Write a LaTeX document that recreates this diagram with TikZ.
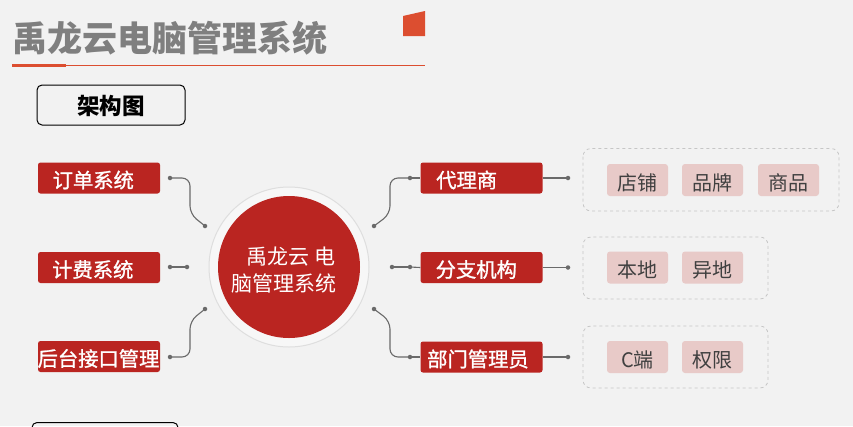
\documentclass[tikz,border=0pt]{standalone}
\usepackage{fontspec}
\setmainfont{Noto Sans CJK SC}
\newfontfamily\medfont[FakeBold=1.2]{Noto Sans CJK SC}
\definecolor{bgc}{HTML}{F2F2F2}
\definecolor{redbox}{HTML}{BA2521}
\definecolor{orng}{HTML}{DC4E30}
\definecolor{titlegray}{HTML}{7F7F7F}
\definecolor{pinkc}{HTML}{E8CAC8}
\definecolor{txtdark}{HTML}{404040}
\definecolor{dashc}{HTML}{C6C6C6}
\definecolor{connc}{HTML}{6A6A6A}
\tikzset{
  redb/.style={fill=redbox, rounded corners=2.5pt, minimum width=122pt, minimum height=31pt, inner sep=0pt},
  redt/.style={text=white, font=\fontsize{20.3}{23}\selectfont\medfont, inner sep=0pt},
  pinkb/.style={fill=pinkc, rounded corners=3pt, minimum width=61pt, minimum height=32pt, inner sep=0pt},
  pinkt/.style={text=txtdark, font=\fontsize{20}{23}\selectfont, inner sep=0pt},
  dashb/.style={draw=dashc, dashed, line width=0.8pt, rounded corners=8pt},
  dot/.style={circle, fill=connc, inner sep=0pt, minimum size=4.5pt},
  conn/.style={draw=connc, line width=1.1pt, rounded corners=8pt},
}
\begin{document}
\begin{tikzpicture}[x=1pt,y=-1pt]
\fill[bgc] (0,0) rectangle (853,426);
\useasboundingbox (0,0) rectangle (853,426);
% title
\node[anchor=west, text=titlegray, font=\fontsize{35}{38}\selectfont\bfseries, inner sep=0pt] (title) at (12,38) {禹龙云电脑管理系统};
\fill[orng] (12,63.5) rectangle (66,67);
\draw[orng, line width=1pt] (66,65.3) -- (425,65.3);
\fill[orng] (403,16) -- (425,11) -- (425,36) -- (403,36) -- cycle;
% arch box
\node[draw=black, line width=1pt, rounded corners=5pt, minimum width=148pt, minimum height=40pt] (arch) at (111,105) {};
\node[font=\fontsize{22.5}{24}\selectfont\bfseries, text=black, inner sep=0pt] (archt) at (111,106) {架构图};
% bottom box (cut off)
\draw[black, line width=1pt, rounded corners=5pt] (32,445) -- (32,422.5) -- (178,422.5) -- (178,445);
% circle
\node[circle, fill=white!40!bgc, draw=black!13, line width=1pt, minimum size=160pt] (ring) at (289,267) {};
\node[circle, fill=redbox, minimum size=142pt] (center) at (289,267) {};
\node[anchor=west, text=white, font=\fontsize{21}{24}\selectfont, inner sep=0pt] (c1) at (246.5,256.5) {禹龙云 电};
\node[anchor=west, text=white, font=\fontsize{21}{24}\selectfont, inner sep=0pt] (c2) at (231.5,283.5) {脑管理系统};
% left boxes
\node[redb] (b1) at (99,178) {};
\node[redt, anchor=west] (b1t) at (52.5,180) {订单系统};
\node[redb] (b2) at (99,267.5) {};
\node[redt, anchor=west] (b2t) at (52,269.5) {计费系统};
\node[redb] (b3) at (99,356.5) {};
\node[redt] (b3t) at (98.5,358.5) {后台接口管理};
% right boxes
\node[redb] (r1) at (481.5,178) {};
\node[redt, anchor=west] (r1t) at (436,180) {代理商};
\node[redb] (r2) at (481.5,267.5) {};
\node[redt, anchor=west] (r2t) at (435.5,269.5) {分支机构};
\node[redb] (r3) at (481.5,357) {};
\node[redt, anchor=west] (r3t) at (427,359) {部门管理员};
% left dots and connectors
\node[dot] (l1a) at (170,178) {};
\node[dot] (l1b) at (205,226) {};
\node[dot] (l2a) at (170,267) {};
\node[dot] (l2b) at (187,267) {};
\node[dot] (l3a) at (170,357) {};
\node[dot] (l3b) at (205,309) {};
\draw[conn] (l1a.center) -- (190,178) -- (190,214) -- (l1b.center);
\draw[conn] (l2a.center) -- (l2b.center);
\draw[conn] (l3a.center) -- (190,357) -- (190,321) -- (l3b.center);
% right dots and connectors
\node[dot] (m1a) at (374,226) {};
\node[dot] (m1b) at (410,178) {};
\node[dot] (m2a) at (392,267) {};
\node[dot] (m2b) at (410,267) {};
\node[dot] (m3a) at (374,309) {};
\node[dot] (m3b) at (410,357) {};
\draw[conn] (m1a.center) -- (390,214) -- (390,178) -- (m1b.center);
\draw[conn] (m2a.center) -- (m2b.center);
\draw[conn] (m3a.center) -- (390,321) -- (390,357) -- (m3b.center);
\draw[conn] (m1b.center) -- (r1.west);
\draw[conn] (m2b.center) -- (r2.west);
\draw[conn] (m3b.center) -- (r3.west);
% outer dots
\node[dot] (o1) at (568,178) {};
\node[dot] (o2) at (568,267.5) {};
\node[dot] (o3) at (568,357) {};
\draw[conn] (r1.east) -- (o1.center);
\draw[conn] (r2.east) -- (o2.center);
\draw[conn] (r3.east) -- (o3.center);
% dashed groups
\draw[dashb] (583,148.5) rectangle (839,211);
\draw[dashb] (583,237) rectangle (768,299);
\draw[dashb] (583,326) rectangle (768,388);
% pink boxes
\node[pinkb] (p11) at (637.5,180) {};
\node[pinkt] (p11t) at (637.5,182.5) {店铺};
\node[pinkb] (p12) at (712.5,180) {};
\node[pinkt] (p12t) at (712.5,182.5) {品牌};
\node[pinkb] (p13) at (788.5,180) {};
\node[pinkt] (p13t) at (788.5,182.5) {商品};
\node[pinkb] (p21) at (637.5,267.5) {};
\node[pinkt] (p21t) at (637.5,270) {本地};
\node[pinkb] (p22) at (712.5,267.5) {};
\node[pinkt] (p22t) at (712.5,270) {异地};
\node[pinkb] (p31) at (637.5,357) {};
\node[pinkt] (p31t) at (637.5,359.5) {C端};
\node[pinkb] (p32) at (712.5,357) {};
\node[pinkt] (p32t) at (712.5,359.5) {权限};
\end{tikzpicture}
\end{document}
